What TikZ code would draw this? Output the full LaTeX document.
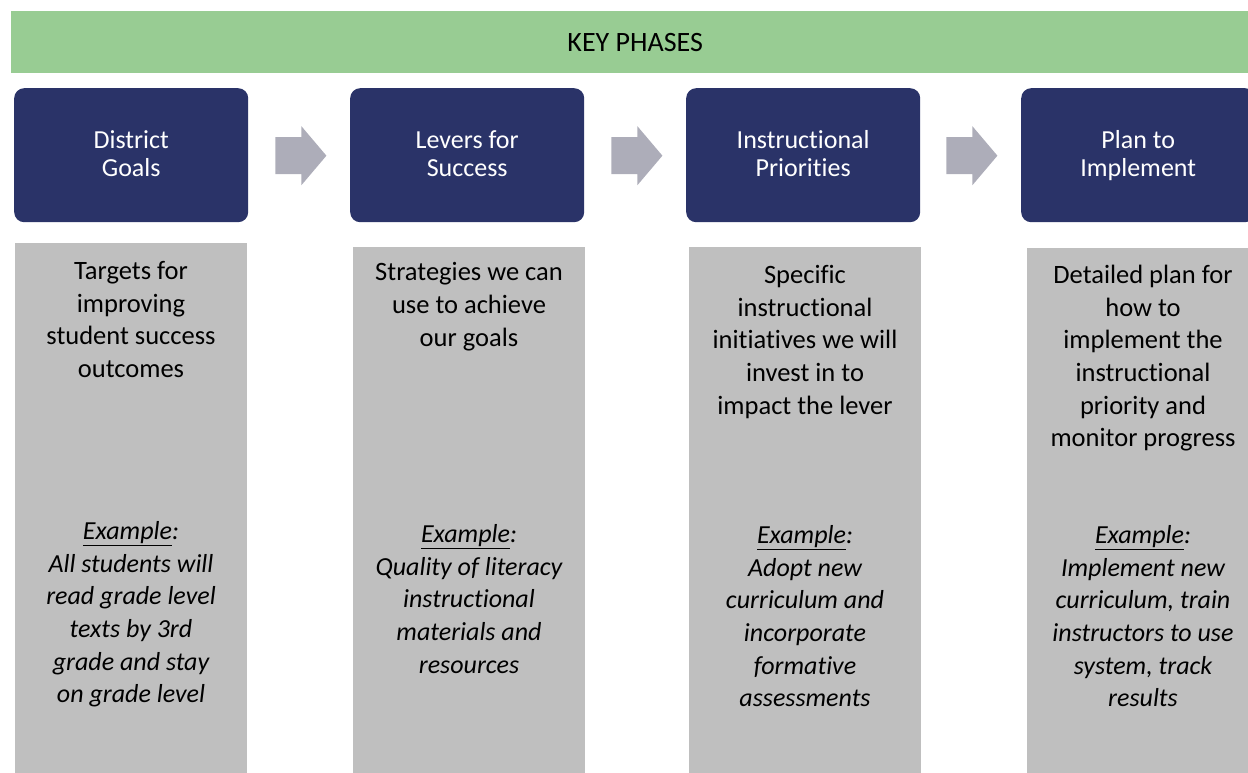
\documentclass[tikz,border=0pt]{standalone}
\usepackage{fontspec}
\setmainfont{Carlito}[Ligatures=NoCommon]
\usetikzlibrary{calc}

\definecolor{phasegreen}{HTML}{98CC93}
\definecolor{phasenavy}{HTML}{2A3368}
\definecolor{phasegray}{HTML}{BFBFBF}
\definecolor{arrowgray}{HTML}{ADADB9}

\newcommand\hdtop{\rule{0pt}{22pt}}
\newcommand\hdbot{\rule[-7pt]{0pt}{7pt}}

\begin{document}
\begin{tikzpicture}[x=1pt, y=-1pt,
		titlebar/.style={fill=phasegreen, minimum width=1248pt, minimum height=62pt, anchor=north west, inner sep=0pt, font=\fontsize{28}{32}\selectfont},
		phase/.style={fill=phasenavy, rounded corners=10pt, minimum width=234pt, minimum height=134pt, anchor=north west, inner sep=0pt,
			text=white, align=center, font=\fontsize{26}{28.4}\selectfont},
		column/.style={fill=phasegray, minimum width=232pt, minimum height=540pt, anchor=north west, inner sep=0pt},
		note/.style={align=center, anchor=north, inner sep=0pt, font=\fontsize{26.5}{32.7}\selectfont},
		example/.style={note, font=\itshape\fontsize{26}{32.7}\selectfont},
		flowarrow/.style={fill=arrowgray}]
	\useasboundingbox (0,0) rectangle (1248,773);

	\node[titlebar] (kp) at (11,11) {KEY PHASES};

	% phase boxes
	\node[phase] (dg) at (14,88) {\hdtop District\\Goals\hdbot};
	\node[phase] (lv) at (350,88) {\hdtop Levers for\\Success\hdbot};
	\node[phase] (ip) at (686,88) {\hdtop Instructional\\Priorities\hdbot};
	\node[phase] (pi) at (1021,88) {\hdtop Plan to\\Implement\hdbot};

	% arrows between phases
	\fill[flowarrow] ($(dg.east)+(27,-18)$) -- ++(26,0) -- ++(0,-11) -- ++(25,29.5) -- ++(-25,29.5) -- ++(0,-11) -- ++(-26,0) -- cycle;
	\fill[flowarrow] ($(lv.east)+(27,-18)$) -- ++(26,0) -- ++(0,-11) -- ++(25,29.5) -- ++(-25,29.5) -- ++(0,-11) -- ++(-26,0) -- cycle;
	\fill[flowarrow] ($(ip.east)+(26,-18)$) -- ++(26,0) -- ++(0,-11) -- ++(25,29.5) -- ++(-25,29.5) -- ++(0,-11) -- ++(-26,0) -- cycle;

	% description columns
	\node[column] (c1) at (15,243) {};
	\node[column] (c2) at (353,247) {};
	\node[column] (c3) at (689,247) {};
	\node[column] (c4) at (1027,248) {};

	\node[note] (t1) at (131,256.4) {\strut Targets for\\improving\\student success\\outcomes};
	\node[note] (t2) at (469,257.8) {\strut Strategies we can\\use to achieve\\our goals};
	\node[note] (t3) at (805,260.4) {\strut Specific\\instructional\\initiatives we will\\invest in to\\impact the lever};
	\node[note] (t4) at (1143,260.4) {\strut Detailed plan for\\how to\\implement the\\instructional\\priority and\\monitor progress};

	\node[example] (e1) at (131,516.4) {\strut\underline{Example}:\\All students will\\read grade level\\texts by 3rd\\grade and stay\\on grade level};
	\node[example] (e2) at (469,519.4) {\strut\underline{Example}:\\Quality of literacy\\instructional\\materials and\\resources};
	\node[example] (e3) at (805,520.4) {\strut\underline{Example}:\\Adopt new\\curriculum and\\incorporate\\formative\\assessments};
	\node[example] (e4) at (1143,520.4) {\strut\underline{Example}:\\Implement new\\curriculum, train\\instructors to use\\system, track\\results};
\end{tikzpicture}
\end{document}
